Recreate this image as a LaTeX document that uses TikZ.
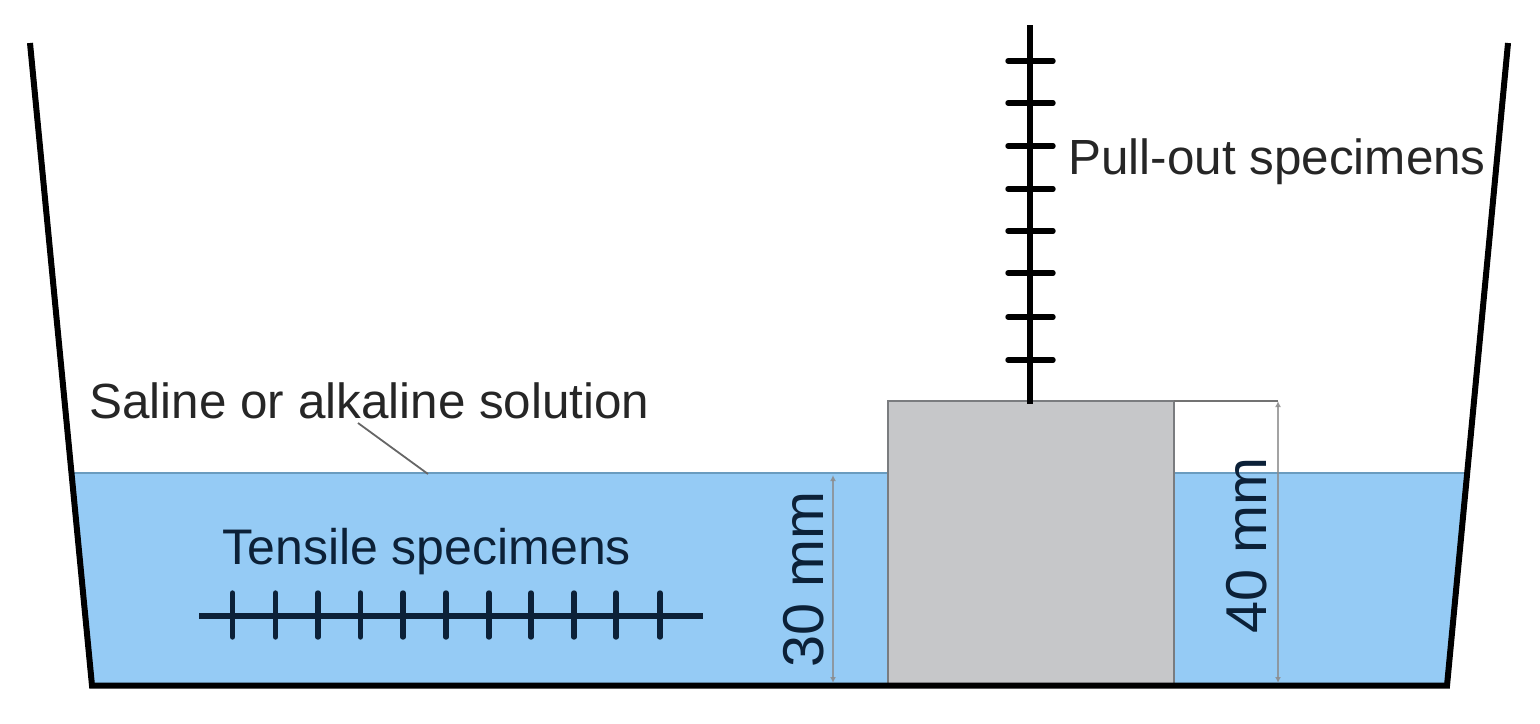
\documentclass[tikz,border=0pt]{standalone}
\usepackage{fontspec}
\setmainfont{Liberation Sans}
\usepackage{tikz}
\usetikzlibrary{arrows.meta}
\definecolor{waterBlue}{HTML}{95CBF5}
\definecolor{waterEdge}{HTML}{6A9CBF}
\definecolor{blockGray}{HTML}{C6C7C9}
\definecolor{blockEdge}{HTML}{7A7C7F}
\definecolor{tensileInk}{HTML}{0C2138}
\tikzset{
    label text/.style={inner sep=0pt, anchor=base west, font=\fontsize{24.7pt}{30pt}\selectfont, text=black!85},
    dim text/.style={label text, rotate=90, font=\fontsize{28.8pt}{34pt}\selectfont, text=tensileInk},
    rod/.style={line width=3.4pt, black},
    rod tick/.style={line width=2.7pt, black, line cap=round},
    dim line/.style={line width=1.3pt, black!45, opacity=0.8, {Latex[length=3pt,width=3pt]}-{Latex[length=3pt,width=3pt]}},
}
\newcommand*{\TicksPull}[3]{% #1 = list of y, #2/#3 = x from/to
\foreach \y in {#1} {
\draw [rod tick] (#2,\y) -- (#3,\y);
}%
}
\newcommand*{\TicksTensile}[3]{% #1 = list of x, #2/#3 = y from/to
\foreach \x in {#1} {
\draw [rod tick, tensileInk] (\x,#2) -- (\x,#3);
}%
}

\begin{document}
\begin{tikzpicture}[x=0.5pt,y=-0.5pt]
    \useasboundingbox (0,0) rectangle (1540,723);

    % solution
    \fill [waterBlue] (71.5,473) -- (92,685) -- (1447,685) -- (1467,473) -- cycle;
    \draw [line width=1.2pt, waterEdge] (71.5,473) -- (1467,473);

    % block
    \draw [line width=1.4pt, blockEdge, fill=blockGray] (888,685) rectangle (1174,401);

    % tank
    \draw [line width=3pt, black, line join=miter] (30,43) -- (92,685.5) -- (1447,685.5) -- (1508,43);

    % pull-out specimens
    \draw [rod] (1030,25) -- (1030,404);
    \TicksPull{61,103,146,189,231,273,317,360}{1008}{1053}

    % tensile specimens
    \draw [rod, tensileInk] (199,616) -- (703,616);
    \TicksTensile{232.5,275.5,318,360.5,403,446,489,531,574,616,660}{593}{637}

    % dimensions
    \coordinate (dimThirtyTop) at (833,475);
    \coordinate (dimThirtyBot) at (833,683);
    \coordinate (dimFortyTop) at (1278,401);
    \coordinate (dimFortyBot) at (1278,683);
    \coordinate (blockCorner) at (1174,401);
    \draw [dim line] (dimThirtyTop) -- (dimThirtyBot);
    \draw [dim line] (dimFortyTop) -- (dimFortyBot);
    \draw [line width=1.1pt, black!55] (blockCorner) -- (dimFortyTop);

    % labels
    \node [label text] (salineLabel) at (89,418) {Saline or alkaline solution};
    \node [label text, text=tensileInk, font=\fontsize{25pt}{30pt}\selectfont] (tensileLabel) at (222,564) {Tensile specimens};
    \node [label text] (pullLabel) at (1068,174) {Pull-out specimens};
    \node [dim text] (thirtyLabel) at (823,668) {30 mm};
    \node [dim text] (fortyLabel) at (1266,634) {40 mm};

    % leader
    \coordinate (leaderTop) at (358,423);
    \coordinate (leaderEnd) at (428,474);
    \draw [line width=0.9pt, black!60] (leaderTop) -- (leaderEnd);

\end{tikzpicture}
\end{document}
